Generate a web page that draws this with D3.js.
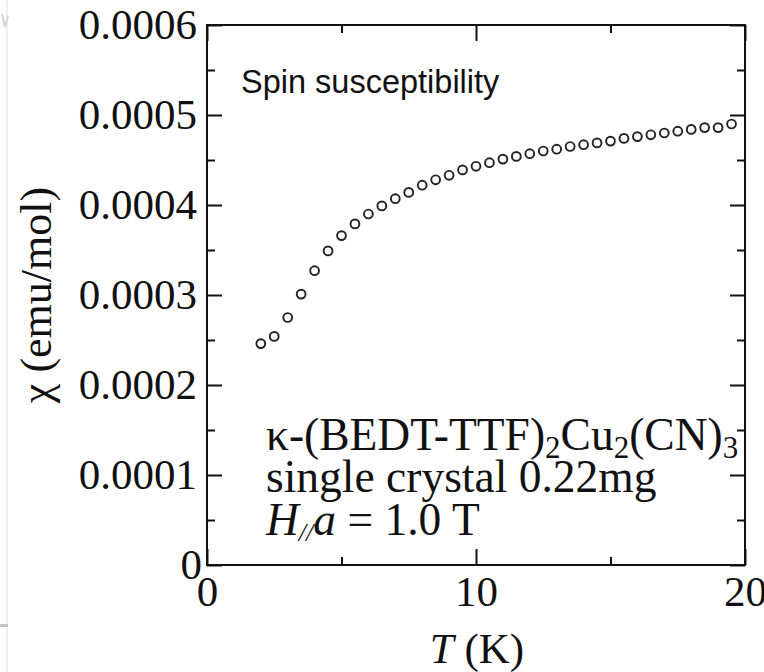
<!DOCTYPE html>
<html>
<head>
<meta charset="utf-8">
<script src="https://cdn.jsdelivr.net/npm/d3@7"></script>
<style>
  html, body { margin: 0; padding: 0; background: #fff; }
  svg { display: block; }
</style>
</head>
<body>
<svg id="chart" width="764" height="672"></svg>
<script>
// Temperature (K) and spin susceptibility (emu/mol)
const temperature = [2.0, 2.5, 3.0, 3.5, 4.0, 4.5, 5.0, 5.5, 6.0, 6.5, 7.0, 7.5, 8.0, 8.5,
  9.0, 9.5, 10.0, 10.5, 11.0, 11.5, 12.0, 12.5, 13.0, 13.5, 14.0, 14.5, 15.0, 15.5,
  16.0, 16.5, 17.0, 17.5, 18.0, 18.5, 19.0, 19.5];
const chi = [0.000246, 0.000254, 0.000275, 0.000301, 0.000327, 0.000349, 0.000366, 0.000379,
  0.000390, 0.000399, 0.000407, 0.000414, 0.000422, 0.000428, 0.000433, 0.000439,
  0.000443, 0.000447, 0.000451, 0.000454, 0.000457, 0.000460, 0.000462, 0.000465,
  0.000467, 0.000469, 0.000471, 0.000474, 0.000476, 0.000478, 0.000480, 0.000482,
  0.000484, 0.000486, 0.000486, 0.000490];

const xMajorTicks = [0, 10, 20];
const xMinorTicks = [5, 15];
const yMajorTicks = [0, 0.0001, 0.0002, 0.0003, 0.0004, 0.0005, 0.0006];
const yMinorTicks = [0.00005, 0.00015, 0.00025, 0.00035, 0.00045, 0.00055];

const serif = "'Liberation Serif', 'Times New Roman', serif";
const sans = "'Liberation Sans', Arial, sans-serif";

const svg = d3.select("#chart");
const plotLeft = 207, plotRight = 745, plotTop = 25, plotBottom = 565;

const x = d3.scaleLinear().domain([0, 20]).range([plotLeft, plotRight]);
const y = d3.scaleLinear().domain([0, 0.0006]).range([plotBottom, plotTop]);

// faint page-edge marks along the left side
svg.append("line").attr("x1", 7).attr("x2", 7).attr("y1", 0).attr("y2", 672)
  .attr("stroke", "#f1f1ea").attr("stroke-width", 2);
svg.append("rect").attr("x", 0).attr("y", 624).attr("width", 8).attr("height", 3)
  .attr("fill", "#c4c4c4");
svg.append("path").attr("d", "M2,14 L5,27 L8,16")
  .attr("fill", "none").attr("stroke", "#d6d6d6").attr("stroke-width", 2);

function styleAxis(g) {
  g.select(".domain").remove();
  g.selectAll(".tick line").attr("stroke", "#111").attr("stroke-width", 2);
  g.selectAll(".tick text").attr("fill", "#111")
    .style("font-family", serif).style("font-size", "43px");
}

const yFmt = d => d === 0 ? "0" : d.toFixed(4);

// bottom axis
svg.append("g").attr("transform", `translate(0,${plotBottom})`)
  .call(d3.axisBottom(x).tickValues(xMajorTicks).tickSize(-16).tickPadding(10).tickFormat(d3.format("d")))
  .call(styleAxis);
svg.append("g").attr("transform", `translate(0,${plotBottom})`)
  .call(d3.axisBottom(x).tickValues(xMinorTicks).tickSize(-8).tickFormat(""))
  .call(styleAxis);
// top axis
svg.append("g").attr("transform", `translate(0,${plotTop})`)
  .call(d3.axisTop(x).tickValues(xMajorTicks).tickSize(-16).tickFormat(""))
  .call(styleAxis);
svg.append("g").attr("transform", `translate(0,${plotTop})`)
  .call(d3.axisTop(x).tickValues(xMinorTicks).tickSize(-8).tickFormat(""))
  .call(styleAxis);
// left axis; the zero label sits a little closer to the corner
svg.append("g").attr("transform", `translate(${plotLeft},0)`)
  .call(d3.axisLeft(y).tickValues(yMajorTicks).tickSize(-15).tickPadding(10).tickFormat(yFmt))
  .call(styleAxis)
  .call(g => g.selectAll(".tick text").filter(d => d === 0).attr("x", -5));
svg.append("g").attr("transform", `translate(${plotLeft},0)`)
  .call(d3.axisLeft(y).tickValues(yMinorTicks).tickSize(-8).tickFormat(""))
  .call(styleAxis);
// right axis
svg.append("g").attr("transform", `translate(${plotRight},0)`)
  .call(d3.axisRight(y).tickValues(yMajorTicks).tickSize(-15).tickFormat(""))
  .call(styleAxis);
svg.append("g").attr("transform", `translate(${plotRight},0)`)
  .call(d3.axisRight(y).tickValues(yMinorTicks).tickSize(-8).tickFormat(""))
  .call(styleAxis);

// frame
svg.append("rect").attr("x", plotLeft).attr("y", plotTop)
  .attr("width", plotRight - plotLeft).attr("height", plotBottom - plotTop)
  .attr("fill", "none").attr("stroke", "#111").attr("stroke-width", 2);

// data points
svg.append("g").selectAll("circle")
  .data(temperature.map((t, i) => ({ t, v: chi[i] })))
  .join("circle")
  .attr("cx", d => x(d.t))
  .attr("cy", d => y(d.v))
  .attr("r", 4.4)
  .attr("fill", "none")
  .attr("stroke", "#222")
  .attr("stroke-width", 1.9);

// axis titles
const xt = svg.append("text").attr("x", 477).attr("y", 663)
  .attr("text-anchor", "middle").attr("fill", "#111")
  .style("font-family", serif).style("font-size", "43px");
xt.append("tspan").attr("font-style", "italic").text("T");
xt.append("tspan").text(" (K)");

svg.append("text").attr("transform", "translate(51,295) rotate(-90)")
  .attr("text-anchor", "middle").attr("fill", "#111")
  .style("font-family", serif).style("font-size", "44px")
  .text("χ (emu/mol)");

// in-plot labels
svg.append("text").attr("x", 241).attr("y", 93).attr("fill", "#111")
  .style("font-family", sans).style("font-size", "32.5px")
  .text("Spin susceptibility");

const ann = svg.append("g").attr("fill", "#111")
  .style("font-family", serif).style("font-size", "45.5px");

const l1 = ann.append("text").attr("x", 266).attr("y", 450);
l1.append("tspan").text("κ-(BEDT-TTF)");
l1.append("tspan").attr("dy", 8).style("font-size", "31px").text("2");
l1.append("tspan").attr("dy", -8).text("Cu");
l1.append("tspan").attr("dy", 8).style("font-size", "31px").text("2");
l1.append("tspan").attr("dy", -8).text("(CN)");
l1.append("tspan").attr("dy", 8).style("font-size", "31px").text("3");

ann.append("text").attr("x", 266).attr("y", 492).text("single crystal 0.22mg");

const l3 = ann.append("text").attr("x", 266).attr("y", 535);
l3.append("tspan").attr("font-style", "italic").text("H");
l3.append("tspan").attr("dy", 6).attr("font-style", "italic").style("font-size", "26px").text("//");
l3.append("tspan").attr("dy", -6).attr("font-style", "italic").text("a");
l3.append("tspan").text(" = 1.0 T");
</script>
</body>
</html>
